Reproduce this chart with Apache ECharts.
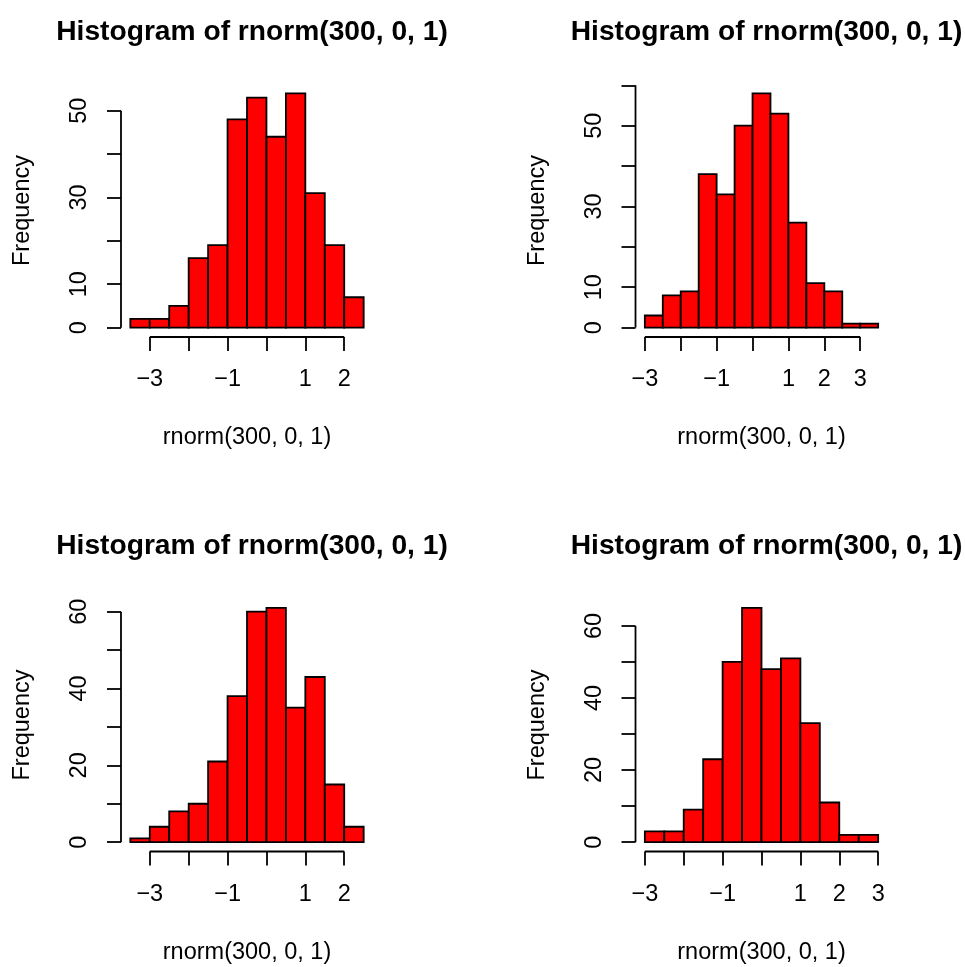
<!DOCTYPE html>
<html>
<head>
<meta charset="utf-8">
<style>
  html, body { margin: 0; padding: 0; background: #fff; }
  #main { width: 965px; height: 967px; }
</style>
<script src="https://cdn.jsdelivr.net/npm/echarts@6/dist/echarts.min.js"></script>
</head>
<body>
<div id="main"></div>
<script>
// four samples of rnorm(300, 0, 1), bins of width 0.5
var breaksA = [-3.5, -3, -2.5, -2, -1.5, -1, -0.5, 0, 0.5, 1, 1.5, 2, 2.5]
var countsA = [2, 2, 5, 16, 19, 48, 53, 44, 54, 31, 19, 7]
var breaksB = [-3, -2.5, -2, -1.5, -1, -0.5, 0, 0.5, 1, 1.5, 2, 2.5, 3, 3.5]
var countsB = [3, 8, 9, 38, 33, 50, 58, 53, 26, 11, 9, 1, 1]
var breaksC = [-3.5, -3, -2.5, -2, -1.5, -1, -0.5, 0, 0.5, 1, 1.5, 2, 2.5]
var countsC = [1, 4, 8, 10, 21, 38, 60, 61, 35, 43, 15, 4]
var breaksD = [-3, -2.5, -2, -1.5, -1, -0.5, 0, 0.5, 1, 1.5, 2, 2.5, 3]
var countsD = [3, 3, 9, 23, 50, 65, 48, 51, 33, 11, 2, 2]

// tick marks and the labels R kept
var xTicksA = [-3, -2, -1, 0, 1, 2]
var xLabelsA = [-3, -1, 1, 2]
var xTicksB = [-3, -2, -1, 0, 1, 2, 3]
var xLabelsB = [-3, -1, 1, 2, 3]
var yTicksA = [0, 10, 20, 30, 40, 50]
var yLabelsA = [0, 10, 30, 50]
var yTicksB = [0, 10, 20, 30, 40, 50, 60]
var yLabelsB = [0, 10, 30, 50]
var yLabelsC = [0, 20, 40, 60]

var panels = [
  {breaks: breaksA, counts: countsA, xTicks: xTicksA, xLabels: xLabelsA, yTicks: yTicksA, yLabels: yLabelsA, left: 121, top: 84},
  {breaks: breaksB, counts: countsB, xTicks: xTicksB, xLabels: xLabelsB, yTicks: yTicksB, yLabels: yLabelsB, left: 635.5, top: 84},
  {breaks: breaksC, counts: countsC, xTicks: xTicksA, xLabels: xLabelsA, yTicks: yTicksB, yLabels: yLabelsC, left: 121, top: 598.5},
  {breaks: breaksD, counts: countsD, xTicks: xTicksB, xLabels: xLabelsB, yTicks: yTicksB, yLabels: yLabelsC, left: 635.5, top: 598.5}
]

var W = 252, H = 253
var FONT = '"Liberation Sans", Arial, Helvetica, sans-serif'
var FS = 23.5
var LW = 1.8

function minus(v) { return String(v).replace('-', '\u2212') }

var option = {
  backgroundColor: '#fff',
  animation: false,
  title: [], grid: [], xAxis: [], yAxis: [], series: []
}

panels.forEach(function (p, i) {
  var lo = p.breaks[0], hi = p.breaks[p.breaks.length - 1]
  var padX = (hi - lo) * 0.04
  var maxC = Math.max.apply(null, p.counts)
  var padY = maxC * 0.04
  p.xMin = lo - padX; p.xMax = hi + padX
  p.yMin = -padY; p.yMax = maxC + padY

  option.title.push({
    text: 'Histogram of rnorm(300, 0, 1)',
    left: p.left + W / 2, top: p.top - 71,
    textAlign: 'center',
    textStyle: {fontFamily: FONT, fontSize: 28.2, fontWeight: 'bold', color: '#000'}
  })
  option.grid.push({left: p.left, top: p.top, width: W, height: H, containLabel: false})
  option.xAxis.push({
    type: 'value', gridIndex: i, min: p.xMin, max: p.xMax,
    name: 'rnorm(300, 0, 1)', nameLocation: 'middle', nameGap: 89,
    nameTextStyle: {fontFamily: FONT, fontSize: FS, color: '#000'},
    axisLine: {show: false, onZero: false},
    axisTick: {show: true, length: 14, customValues: p.xTicks, lineStyle: {color: '#000', width: LW}},
    axisLabel: {customValues: p.xLabels, margin: 31, formatter: minus,
      fontFamily: FONT, fontSize: FS, color: '#000'},
    splitLine: {show: false}
  })
  option.yAxis.push({
    type: 'value', gridIndex: i, min: p.yMin, max: p.yMax,
    name: 'Frequency', nameLocation: 'middle', nameGap: 86,
    nameTextStyle: {fontFamily: FONT, fontSize: FS, color: '#000'},
    axisLine: {show: false, onZero: false},
    axisTick: {show: true, length: 14, customValues: p.yTicks, lineStyle: {color: '#000', width: LW}},
    axisLabel: {customValues: p.yLabels, margin: 29, rotate: 90,
      fontFamily: FONT, fontSize: FS, color: '#000'},
    splitLine: {show: false}
  })

  // bars
  option.series.push({
    type: 'custom', xAxisIndex: i, yAxisIndex: i, clip: false,
    data: p.counts.map(function (c, k) { return [p.breaks[k], p.breaks[k + 1], c] }),
    renderItem: function (params, api) {
      var a = api.coord([api.value(0), api.value(2)])
      var b = api.coord([api.value(1), 0])
      return {
        type: 'rect',
        shape: {x: a[0], y: a[1], width: b[0] - a[0], height: b[1] - a[1]},
        style: {fill: '#ff0000', stroke: '#000', lineWidth: LW}
      }
    }
  })
  // axis lines, only across the tick range as R draws them
  option.series.push({
    type: 'custom', xAxisIndex: i, yAxisIndex: i, clip: false, silent: true,
    data: [[0]],
    renderItem: function (params, api) {
      var x0 = api.coord([p.xTicks[0], p.yMin])
      var x1 = api.coord([p.xTicks[p.xTicks.length - 1], p.yMin])
      var y0 = api.coord([p.xMin, p.yTicks[0]])
      var y1 = api.coord([p.xMin, p.yTicks[p.yTicks.length - 1]])
      var st = {stroke: '#000', lineWidth: LW}
      return {
        type: 'group',
        children: [
          {type: 'line', shape: {x1: x0[0], y1: x0[1], x2: x1[0], y2: x1[1]}, style: st},
          {type: 'line', shape: {x1: y0[0], y1: y0[1], x2: y1[0], y2: y1[1]}, style: st}
        ]
      }
    }
  })
})

var chart = echarts.init(document.getElementById('main'), null, {renderer: 'canvas'})
chart.setOption(option)
</script>
</body>
</html>
